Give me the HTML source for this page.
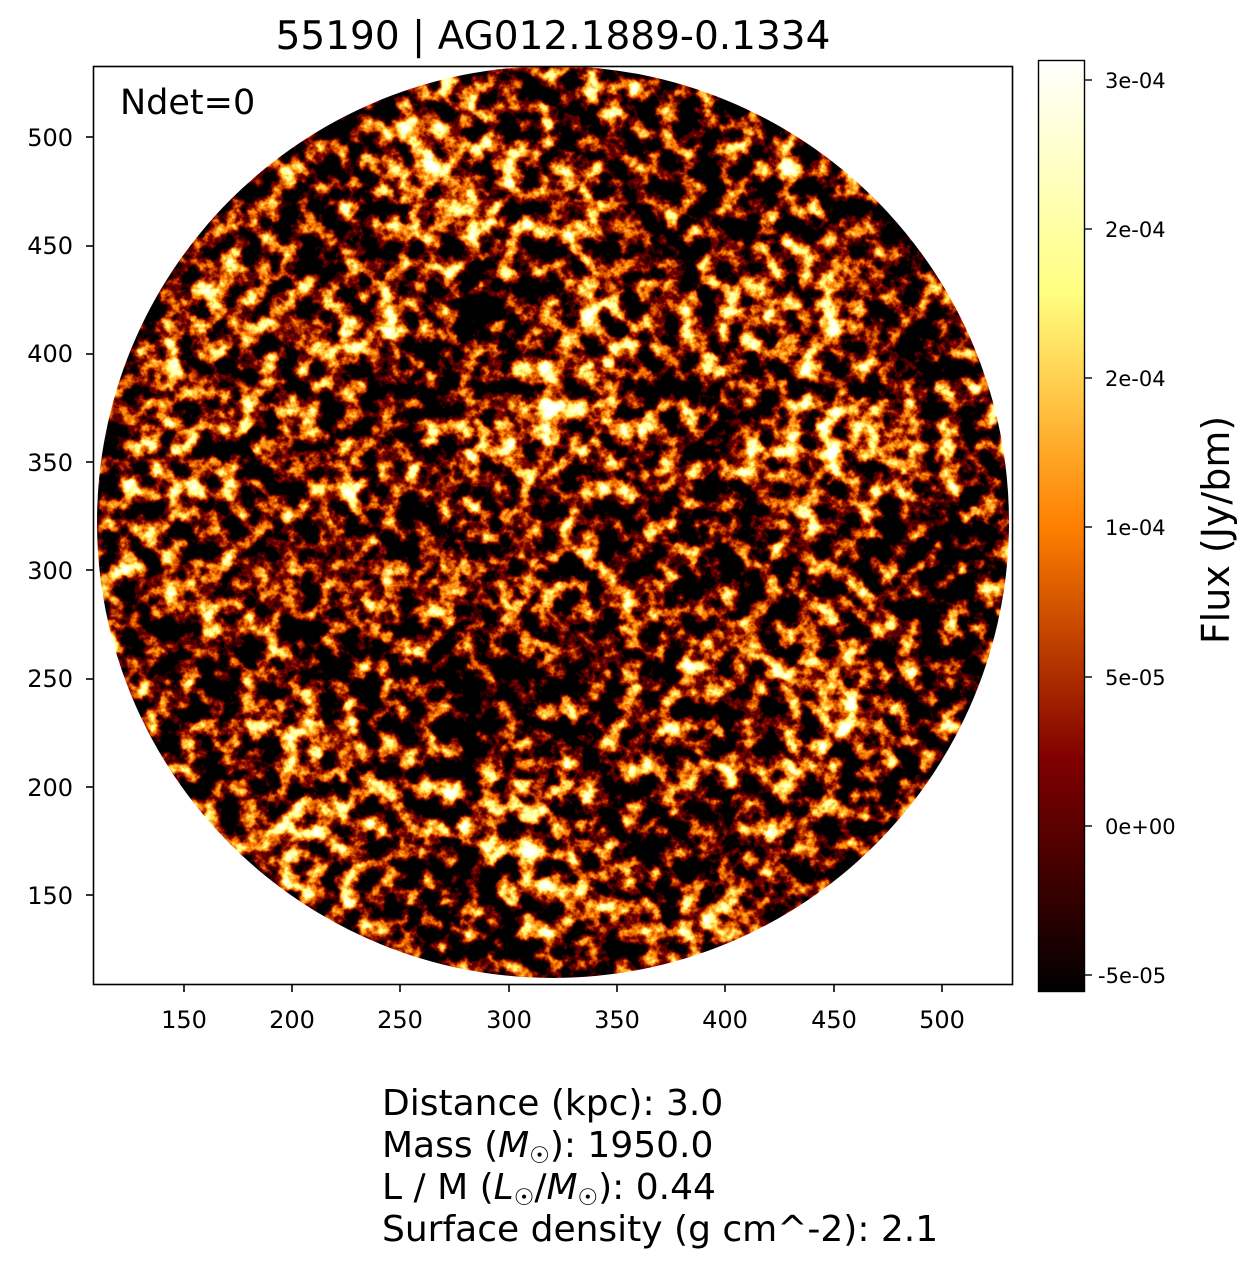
<!DOCTYPE html>
<html><head><meta charset="utf-8"><style>
html,body{margin:0;padding:0;background:#fff;}
svg{display:block;font-family:"DejaVu Sans","Liberation Sans",sans-serif;}
</style></head><body>
<svg width="1257" height="1267" viewBox="0 0 1257 1267" xmlns="http://www.w3.org/2000/svg">
<defs>
<clipPath id="circ"><circle cx="553" cy="522" r="456"/></clipPath>
<filter id="noise" x="0" y="0" width="100%" height="100%" color-interpolation-filters="sRGB">
<feTurbulence type="fractalNoise" baseFrequency="0.05" numOctaves="4" seed="7" result="t0"/>
<feColorMatrix in="t0" type="matrix" values="1 0 0 0 0  1 0 0 0 0  1 0 0 0 0  0 0 0 0 1" result="t"/>
<feTurbulence type="fractalNoise" baseFrequency="0.008" numOctaves="2" seed="3" result="c0"/>
<feColorMatrix in="c0" type="matrix" values="1 0 0 0 0  1 0 0 0 0  1 0 0 0 0  0 0 0 0 1" result="c"/>
<feComposite in="t" in2="c" operator="arithmetic" k1="0" k2="0.85" k3="0.3" k4="-0.075" result="m"/>
<feColorMatrix in="m" type="matrix" values="2.8 0 0 0 -1.2  2.8 0 0 0 -1.2  2.8 0 0 0 -1.2  0 0 0 0 1"/>
<feComponentTransfer>
<feFuncR type="linear" slope="2" intercept="0"/>
<feFuncG type="linear" slope="2" intercept="-0.5"/>
<feFuncB type="linear" slope="2" intercept="-1"/>
</feComponentTransfer>
</filter>
<linearGradient id="cb" x1="0" y1="1" x2="0" y2="0">
<stop offset="0" stop-color="#000"/>
<stop offset="0.25" stop-color="#800000"/>
<stop offset="0.5" stop-color="#ff8000"/>
<stop offset="0.75" stop-color="#ffff80"/>
<stop offset="1" stop-color="#fff"/>
</linearGradient>
</defs>
<text x="553" y="49" font-size="39" text-anchor="middle">55190 | AG012.1889-0.1334</text>
<g clip-path="url(#circ)">
<rect x="93" y="66" width="920" height="919" filter="url(#noise)"/>
</g>
<rect x="93.5" y="66.5" width="919" height="918" fill="none" stroke="#000" stroke-width="1.6"/>
<text x="120" y="114" font-size="35">Ndet=0</text>
<g font-size="24" text-anchor="end">
<text x="73" y="146">500</text><text x="73" y="254">450</text><text x="73" y="362">400</text>
<text x="73" y="471">350</text><text x="73" y="579">300</text><text x="73" y="687">250</text>
<text x="73" y="796">200</text><text x="73" y="904">150</text>
</g>
<g stroke="#000" stroke-width="1.6">
<line x1="86" x2="93" y1="137" y2="137"/><line x1="86" x2="93" y1="246" y2="246"/>
<line x1="86" x2="93" y1="354" y2="354"/><line x1="86" x2="93" y1="462" y2="462"/>
<line x1="86" x2="93" y1="570" y2="570"/><line x1="86" x2="93" y1="679" y2="679"/>
<line x1="86" x2="93" y1="787" y2="787"/><line x1="86" x2="93" y1="895" y2="895"/>
<line y1="985" y2="992" x1="184" x2="184"/><line y1="985" y2="992" x1="292" x2="292"/>
<line y1="985" y2="992" x1="400" x2="400"/><line y1="985" y2="992" x1="509" x2="509"/>
<line y1="985" y2="992" x1="617" x2="617"/><line y1="985" y2="992" x1="725" x2="725"/>
<line y1="985" y2="992" x1="834" x2="834"/><line y1="985" y2="992" x1="942" x2="942"/>
</g>
<g font-size="24" text-anchor="middle">
<text x="184" y="1028">150</text><text x="292" y="1028">200</text><text x="400" y="1028">250</text>
<text x="509" y="1028">300</text><text x="617" y="1028">350</text><text x="725" y="1028">400</text>
<text x="834" y="1028">450</text><text x="942" y="1028">500</text>
</g>
<rect x="1038" y="60" width="47" height="932" fill="url(#cb)"/>
<rect x="1038.5" y="60.5" width="46" height="931" fill="none" stroke="#000" stroke-width="1.4"/>
<g stroke="#000" stroke-width="1.4">
<line x1="1085" x2="1092" y1="80" y2="80"/><line x1="1085" x2="1092" y1="229" y2="229"/>
<line x1="1085" x2="1092" y1="378" y2="378"/><line x1="1085" x2="1092" y1="527" y2="527"/>
<line x1="1085" x2="1092" y1="677" y2="677"/><line x1="1085" x2="1092" y1="826" y2="826"/>
<line x1="1085" x2="1092" y1="975" y2="975"/>
</g>
<g font-size="21">
<text x="1105" y="88">3e-04</text><text x="1105" y="237">2e-04</text><text x="1105" y="386">2e-04</text>
<text x="1105" y="535">1e-04</text><text x="1105" y="685">5e-05</text><text x="1105" y="834">0e+00</text>
<text x="1098" y="983">-5e-05</text>
</g>
<text transform="translate(1229,530) rotate(-90)" font-size="38" text-anchor="middle">Flux (Jy/bm)</text>
<g font-size="36">
<text x="382" y="1115">Distance (kpc): 3.0</text>
<text x="382" y="1157">Mass (<tspan font-style="italic">M</tspan><tspan font-size="23" dy="6">☉</tspan><tspan dy="-6">): 1950.0</tspan></text>
<text x="382" y="1199">L / M (<tspan font-style="italic">L</tspan><tspan font-size="23" dy="6">☉</tspan><tspan dy="-6">/</tspan><tspan font-style="italic">M</tspan><tspan font-size="23" dy="6">☉</tspan><tspan dy="-6">): 0.44</tspan></text>
<text x="382" y="1241">Surface density (g cm^-2): 2.1</text>
</g>
</svg>
</body></html>
